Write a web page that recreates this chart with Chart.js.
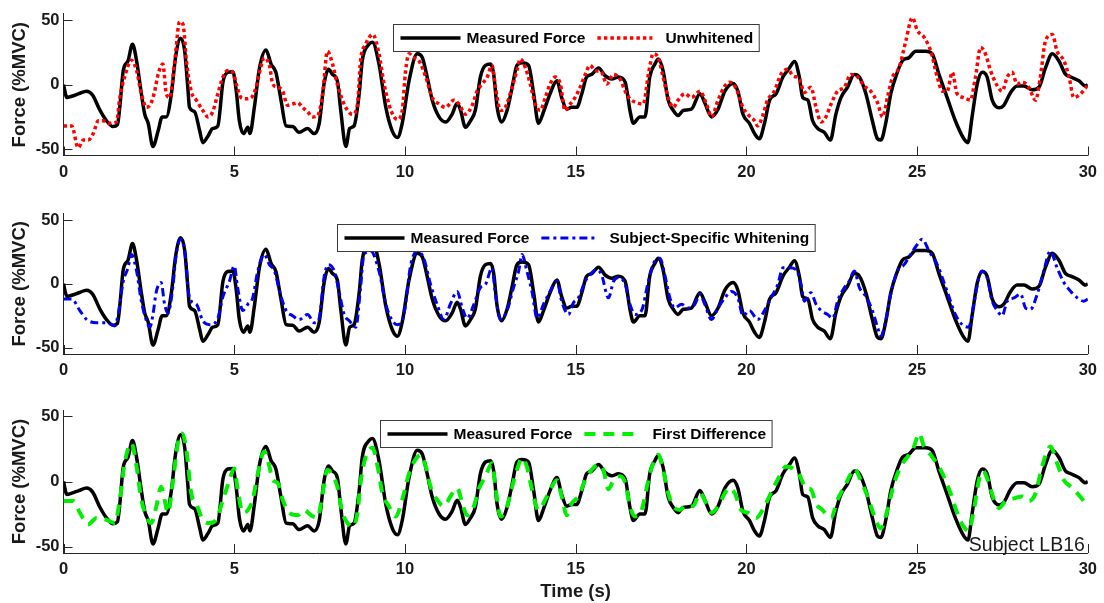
<!DOCTYPE html>
<html>
<head>
<meta charset="utf-8">
<script src="https://cdn.jsdelivr.net/npm/chart.js@4.4.1/dist/chart.umd.min.js"></script>
<style>
  html, body { margin: 0; padding: 0; background: #fff; }
  #wrap { position: relative; width: 1104px; height: 603px; overflow: hidden; }
  .panel { position: absolute; left: 0; width: 1104px; }
  canvas { display: block; }
</style>
</head>
<body>
<div id="wrap">
  <div class="panel" style="top:0px"><canvas id="p1" width="1104" height="196"></canvas></div>
  <div class="panel" style="top:196px"><canvas id="p2" width="1104" height="196"></canvas></div>
  <div class="panel" style="top:392px"><canvas id="p3" width="1104" height="211"></canvas></div>
</div>
<script>
// ---- data (time in s, force in %MVC) ----
const xTicks = [0, 5, 10, 15, 20, 25, 30];
const yTicks = [-50, 0, 50];

const measuredTime = [0, 0.1, 0.24, 0.45, 0.68, 0.85, 1.07, 1.26, 1.45, 1.58, 1.65, 1.75, 1.89, 2.02, 2.14, 2.28, 2.38, 2.48, 2.62, 2.77,
  2.89, 3.01, 3.16, 3.28, 3.43, 3.55, 3.64, 3.69, 3.84, 3.99, 4.08, 4.23, 4.37, 4.52, 4.67, 4.81, 4.96, 5.06, 5.15, 5.27,
  5.4, 5.46, 5.59, 5.74, 5.93, 6.08, 6.22, 6.37, 6.52, 6.71, 6.9, 7.15, 7.34, 7.49, 7.63, 7.76, 7.88, 8.02, 8.12, 8.27,
  8.38, 8.51, 8.66, 8.75, 8.95, 9.05, 9.24, 9.44, 9.63, 9.78, 9.92, 10.12, 10.36, 10.51, 10.65, 10.8, 11.0, 11.19, 11.38, 11.53,
  11.63, 11.77, 11.92, 12.06, 12.21, 12.36, 12.51, 12.6, 12.7, 12.83, 12.99, 13.14, 13.28, 13.43, 13.62, 13.77, 13.91, 14.06, 14.25, 14.45,
  14.59, 14.74, 14.88, 15.03, 15.18, 15.32, 15.47, 15.67, 15.86, 16.06, 16.25, 16.45, 16.59, 16.69, 16.88, 17.03, 17.17, 17.32, 17.42, 17.56,
  17.71, 17.86, 18.0, 18.15, 18.39, 18.64, 18.78, 18.98, 19.17, 19.37, 19.61, 19.75, 19.9, 20.09, 20.24, 20.38, 20.53, 20.68, 20.87, 21.07,
  21.26, 21.41, 21.55, 21.65, 21.8, 21.94, 22.09, 22.28, 22.46, 22.62, 22.77, 22.96, 23.16, 23.31, 23.5, 23.69, 23.84, 23.94, 24.08, 24.23,
  24.42, 24.57, 24.76, 24.96, 25.25, 25.44, 25.64, 25.88, 26.12, 26.37, 26.49, 26.61, 26.76, 26.91, 27.05, 27.2, 27.4, 27.54, 27.74, 27.93,
  28.13, 28.37, 28.57, 28.76, 28.96, 29.15, 29.35, 29.5, 29.74, 29.93, 30];
const measuredForce = [0, -10, -9, -7, -5, -8, -20, -28, -32.5, -31, -17, 11, 18.6, 31.5, 18.6, -7, -23, -30, -48, -36,
  -25, -25, -7, 21, 36, 26, -2, -17.6, -21, -36, -45, -40, -34, -32, 2, 9.6, 10, -5, -28, -38,
  -33, -38, -17.6, 13, 27, 16, 9.6, -12, -32, -32.5, -37, -34, -38, -30, 0.5, 12, 8, 3, -20, -48,
  -34, -32, -7, 18.6, 31.5, 33, 16, -17.6, -36, -41, -30, 3, 24, 21, 6, -12, -25, -29, -23, -14.5,
  -20, -33, -28, -20, 6, 15, 16, 8, -17.6, -29, -20, -2, 15, 17, 15, -7, -30, -21, -7, 3,
  -10, -19, -17.6, -17.6, -7, 6, 8, 13, 7, 4.4, 6, 2, -20, -30, -25, -25, 6, 16, 20, 11,
  -12, -20, -24, -20, -19, -7, -14, -25, -19, -5, 1, -5, -23, -30, -38, -42, -30, -12, -7, 6,
  13, 18, 6, -10, -12, -28, -34, -37, -43, -23, -10, -2, 8, 6, -7, -28, -42, -43, -30, -7,
  9.6, 18.6, 21, 26, 26, 24, 8, -10, -28, -42, -45, -25, 0.5, 9.6, 6, -12, -18, -16, -6, -1,
  -1, -4, -2, 13, 24, 18.6, 8, 6, 3, -1, 0];

const unwhitenedTime = [0, 0.24, 0.43, 0.58, 0.72, 0.87, 1.02, 1.16, 1.36, 1.55, 1.65, 1.79, 1.99, 2.14, 2.28, 2.43, 2.57, 2.67, 2.77, 2.91,
  3.01, 3.11, 3.26, 3.4, 3.5, 3.6, 3.74, 3.89, 4.08, 4.23, 4.37, 4.52, 4.67, 4.81, 4.96, 5.06, 5.2, 5.35, 5.5, 5.64,
  5.79, 5.88, 6.03, 6.13, 6.27, 6.42, 6.56, 6.71, 6.86, 7.0, 7.15, 7.29, 7.44, 7.59, 7.73, 7.88, 8.02, 8.17, 8.32, 8.46,
  8.61, 8.7, 8.85, 9.06, 9.24, 9.39, 9.59, 9.78, 9.92, 10.02, 10.12, 10.26, 10.41, 10.61, 10.8, 11.0, 11.19, 11.43, 11.58, 11.77,
  11.97, 12.11, 12.26, 12.41, 12.55, 12.65, 12.8, 12.94, 13.14, 13.28, 13.38, 13.53, 13.67, 13.82, 13.96, 14.11, 14.25, 14.4, 14.55, 14.69,
  14.84, 14.98, 15.13, 15.28, 15.42, 15.57, 15.76, 15.91, 16.11, 16.3, 16.45, 16.59, 16.79, 16.98, 17.13, 17.27, 17.42, 17.56, 17.71, 17.86,
  18.0, 18.2, 18.39, 18.64, 18.83, 18.98, 19.17, 19.37, 19.51, 19.7, 19.9, 20.04, 20.24, 20.33, 20.48, 20.62, 20.82, 21.01, 21.21, 21.36,
  21.55, 21.7, 21.89, 22.04, 22.19, 22.33, 22.48, 22.67, 22.87, 23.06, 23.26, 23.45, 23.64, 23.84, 23.99, 24.13, 24.28, 24.47, 24.67, 24.86,
  25.01, 25.2, 25.4, 25.59, 25.74, 25.88, 26.03, 26.17, 26.37, 26.56, 26.71, 26.86, 27.0, 27.15, 27.35, 27.49, 27.64, 27.78, 27.93, 28.08,
  28.27, 28.47, 28.61, 28.76, 28.96, 29.1, 29.3, 29.45, 29.59, 29.79, 29.98];
const unwhitenedForce = [-32, -32, -49, -43, -43, -38, -28, -28, -30, -29, -10, 6, 19, 11, -7, -17.6, -14, -5, 8, 16,
  -7, -10, 18.6, 49, 47, 18.6, -5, -12, -20, -25, -21, -7, 6, 11, 9.6, 0.5, -10, -11, -10, -2,
  15, 21, 15, 0.5, -2, -5, -16, -15, -14, -17.6, -21, -25, -24, -7, 26, 16, 0.5, -12, -20, -23,
  -15, 18.6, 31.5, 39, 24, 0.5, -20, -27, -20, 11, 24, 21, 18.6, 6, -10, -15, -17.6, -12, -15, -23,
  -16, -5, 0.5, 6, 15, -2, -20, -17.6, -2, 11, 20, 13, 0.5, -15, -20, -10, 0.5, 6, 0.5, -20,
  -15, -10, -2, 8, 15, 11, 9.6, 0.5, 8, 4.4, -5, -11, -14, -15, 8, 24, 21, 6, -10, -17.6,
  -12, -7, -10, -5, -15, -25, -12, -1, 2, -3, -17.6, -23, -28, -32, -24, -12, -5, 8, 12, 7,
  4.4, -6, -2, -17.6, -29, -25, -15, -5, -2, 8, 6, -1, -5, -14, -25, -10, 6, 13, 34, 52,
  42, 37, 26, 6, -5, -5, 9.6, -7, -10, -12, 6, 29, 24, 11, -1, -5, 6, 9.6, 0.5, 2,
  -2, -12, 6, 34, 39, 26, 18.6, 6, -10, -7, -1];

const whitenedTime = [0, 0.24, 0.48, 0.68, 0.97, 1.26, 1.5, 1.6, 1.75, 1.89, 1.99, 2.14, 2.28, 2.43, 2.53, 2.62, 2.72, 2.86, 2.96, 3.06,
  3.2, 3.3, 3.43, 3.55, 3.69, 3.89, 4.08, 4.28, 4.52, 4.67, 4.86, 5.0, 5.1, 5.25, 5.4, 5.54, 5.69, 5.88, 6.03, 6.18,
  6.33, 6.52, 6.71, 6.9, 7.15, 7.34, 7.49, 7.63, 7.76, 7.93, 8.07, 8.22, 8.37, 8.56, 8.7, 8.8, 9.0, 9.24, 9.44, 9.63,
  9.78, 9.97, 10.17, 10.36, 10.55, 10.75, 10.94, 11.14, 11.33, 11.53, 11.68, 11.82, 12.02, 12.21, 12.36, 12.55, 12.65, 12.8, 12.99, 13.18,
  13.33, 13.43, 13.57, 13.72, 13.87, 14.06, 14.25, 14.45, 14.59, 14.79, 14.93, 15.08, 15.28, 15.47, 15.62, 15.76, 15.96, 16.11, 16.25, 16.45,
  16.59, 16.74, 16.93, 17.13, 17.32, 17.47, 17.61, 17.76, 17.9, 18.1, 18.29, 18.49, 18.64, 18.78, 18.98, 19.17, 19.37, 19.56, 19.75, 19.9,
  20.09, 20.33, 20.53, 20.72, 20.92, 21.07, 21.26, 21.46, 21.6, 21.7, 21.89, 22.04, 22.19, 22.38, 22.53, 22.67, 22.87, 23.01, 23.16, 23.31,
  23.5, 23.69, 23.84, 23.94, 24.08, 24.23, 24.42, 24.62, 24.81, 25.01, 25.15, 25.35, 25.59, 25.88, 26.12, 26.32, 26.51, 26.66, 26.81, 26.91,
  27.05, 27.2, 27.35, 27.49, 27.64, 27.84, 28.03, 28.18, 28.32, 28.52, 28.71, 28.9, 29.1, 29.3, 29.5, 29.69, 29.88, 30];
const whitenedForce = [-12, -12, -21, -28, -30.5, -30.5, -33, -24, 2, 12.5, 23, 10, -13.6, -29, -34, -24, -6, 1, -16, -23,
  -3, 23, 35, 25.6, -11, -16, -29, -32, -27, -10, 2, 14, -3, -21, -16, -11, 10, 23, 15, 10,
  -6, -21, -25, -28, -24, -30.5, -27, 5, 15, 10, -6, -24, -29, -34, -3, 23, 25.6, 10, -16, -29,
  -32, -24, 15, 25.6, 20, -0.5, -16, -28, -16, -6, -19, -27, -16, -3, -0.5, 12.5, -8, -28, -21, -3,
  10, 23, 10, -6, -27, -16, -6, 2, -13.6, -24, -15, -11, 2, 8.6, 11, 7, -11, 2, 5, -0.5,
  -16, -24, -21, 2, 18, 20, 7, -11, -19, -16, -19, -16, -8, -16, -28, -19, -11, -6, -11, -25,
  -21, -28, -21, -11, -0.5, 12.5, 12.5, 11, -0.5, -13.6, -7, -16, -21, -24, -27, -13.6, -3, 2, 10, -3,
  -10, -21, -34, -41, -29, -8, 10, 15, 23, 31, 35, 25.6, 15, -6, -24, -32, -34, -16, 5, 10,
  5, -13.6, -21, -25, -13.6, -11, -8, -19, -20, -8, 10, 25.6, 12.5, 1, -6, -11, -13.6, -12];

const firstDiffTime = [0, 0.29, 0.48, 0.72, 0.97, 1.26, 1.5, 1.65, 1.79, 1.99, 2.14, 2.28, 2.43, 2.57, 2.72, 2.86, 2.96, 3.06, 3.2, 3.35,
  3.48, 3.6, 3.74, 3.89, 4.08, 4.28, 4.47, 4.67, 4.86, 5.0, 5.1, 5.25, 5.4, 5.54, 5.69, 5.88, 6.03, 6.13, 6.27, 6.42,
  6.61, 6.86, 7.05, 7.25, 7.44, 7.59, 7.73, 7.88, 8.02, 8.17, 8.32, 8.46, 8.61, 8.7, 8.85, 9.05, 9.2, 9.34, 9.53, 9.73,
  9.92, 10.12, 10.31, 10.46, 10.61, 10.75, 10.94, 11.14, 11.33, 11.53, 11.68, 11.82, 12.02, 12.16, 12.36, 12.55, 12.65, 12.8, 12.99, 13.14,
  13.28, 13.43, 13.57, 13.72, 13.91, 14.11, 14.3, 14.45, 14.59, 14.74, 14.88, 15.08, 15.28, 15.47, 15.67, 15.81, 15.96, 16.11, 16.3, 16.45,
  16.59, 16.74, 16.93, 17.13, 17.27, 17.42, 17.56, 17.71, 17.86, 18.05, 18.25, 18.44, 18.64, 18.83, 18.98, 19.17, 19.37, 19.5, 19.66, 19.85,
  20.04, 20.29, 20.53, 20.77, 20.97, 21.16, 21.36, 21.55, 21.75, 21.89, 22.04, 22.23, 22.48, 22.67, 22.87, 23.06, 23.16, 23.35, 23.55, 23.74,
  23.94, 24.13, 24.33, 24.52, 24.72, 24.91, 25.06, 25.2, 25.44, 25.69, 25.98, 26.17, 26.37, 26.51, 26.66, 26.81, 26.93, 27.1, 27.25, 27.4,
  27.59, 27.84, 28.08, 28.27, 28.47, 28.66, 28.91, 29.1, 29.3, 29.5, 29.69, 29.88];
const firstDiffForce = [-15, -15, -24, -33, -28, -29.5, -32, -14, 14, 29.5, 11.5, -14, -27, -32, -19, -4, -14, -24, -1, 29.5,
  37, 24, -9, -17, -29.5, -32, -29.5, -14, 1, 10, -6, -24, -22, -14, 6, 23, 11.5, 1, -1, -14,
  -24, -26, -22, -26, -28, -9, 9, 5, -4, -24, -32, -35, -24, -1, 19, 26, 11.5, -9, -19, -27,
  -14, 6, 17, 20.5, 11.5, -4, -14, -19, -11.5, -5, -17, -26, -19, -6, 4, 14, -4, -27, -19, -4,
  9, 18, 11.5, -6, -22, -14, -4, 1, -11.5, -26, -17, -11.5, 1, 9, 13, 9, -6, 1, 4, -1,
  -19, -27, -22, 1, 14, 20.5, 9, -9, -19, -22, -18, -19, -9, -17, -24, -19, -9, -5, -9, -22,
  -24, -28, -19, -6, 4, 11.5, 10, 5, -5, -6, -17, -22, -28, -14, -4, 6, 10, 1, -11.5, -26,
  -36, -22, -1, 11.5, 19, 27, 37, 27, 19, 9, -9, -24, -35, -38, -22, 1, 8, -1, -14, -20.5,
  -15, -13, -11.5, -15, -9, 11.5, 27, 14, 1, -4, -9, -15];

// ---- styling ----
const FONT = "'Liberation Sans', Arial, Helvetica, sans-serif";
const AXIS_COLOR = '#262626';
Chart.defaults.font.family = FONT;
Chart.defaults.color = '#111';

function toPoints(ts, vs) {
  return ts.map((t, i) => ({ x: t, y: vs[i] }));
}

// inward MATLAB-style tick marks
const inwardTicks = {
  id: 'inwardTicks',
  beforeDatasetsDraw(chart) {
    const { ctx, chartArea: a, scales: { x, y } } = chart;
    ctx.save();
    ctx.strokeStyle = AXIS_COLOR;
    ctx.lineWidth = 1;
    ctx.beginPath();
    x.ticks.forEach(t => {
      const px = Math.round(x.getPixelForValue(t.value)) + 0.5;
      ctx.moveTo(px, a.bottom);
      ctx.lineTo(px, a.bottom - 9);
    });
    y.ticks.forEach(t => {
      const py = Math.round(y.getPixelForValue(t.value)) + 0.5;
      ctx.moveTo(a.left, py);
      ctx.lineTo(a.left + 9, py);
    });
    ctx.stroke();
    ctx.restore();
  }
};

// boxed legend centred at the top of the plot area
const boxLegend = {
  id: 'boxLegend',
  afterDatasetsDraw(chart, args, opts) {
    if (!opts || !opts.items) return;
    const { ctx, chartArea: a } = chart;
    ctx.save();
    ctx.font = 'bold 15.5px ' + FONT;
    const samples = [60, 55];
    const widths = opts.items.map(it => ctx.measureText(it.text).width);
    const boxW = 7 + samples[0] + 6 + widths[0] + 12 + samples[1] + 13 + widths[1] + 6;
    const boxH = 27;
    const left = Math.round((a.left + a.right) / 2 - boxW / 2) + 0.5;
    const top = Math.round(a.top + opts.offsetTop) + 0.5;
    ctx.fillStyle = '#fff';
    ctx.fillRect(left, top, boxW, boxH);
    ctx.strokeStyle = '#3a3a3a';
    ctx.lineWidth = 1;
    ctx.strokeRect(left, top, boxW, boxH);
    const cy = top + boxH / 2;
    let x = left + 7;
    opts.items.forEach((it, i) => {
      const ds = chart.data.datasets[it.dataset];
      ctx.beginPath();
      ctx.strokeStyle = ds.borderColor;
      ctx.lineWidth = ds.borderWidth;
      ctx.setLineDash(ds.borderDash || []);
      ctx.moveTo(x, cy);
      ctx.lineTo(x + samples[i], cy);
      ctx.stroke();
      ctx.setLineDash([]);
      x += samples[i] + (i === 0 ? 6 : 13);
      ctx.fillStyle = '#000';
      ctx.textBaseline = 'middle';
      ctx.textAlign = 'left';
      ctx.fillText(it.text, x, cy + 1);
      x += widths[i] + 12;
    });
    ctx.restore();
  }
};

// plain annotation in a corner of the plot
const cornerNote = {
  id: 'cornerNote',
  afterDraw(chart, args, opts) {
    if (!opts || !opts.text) return;
    const { ctx, chartArea: a } = chart;
    ctx.save();
    ctx.font = '19.5px ' + FONT;
    ctx.fillStyle = '#1a1a1a';
    ctx.textAlign = 'right';
    ctx.textBaseline = 'alphabetic';
    ctx.fillText(opts.text, a.right - 3, a.bottom - 2);
    ctx.restore();
  }
};

const panels = [
  { id: 'p1', padTop: 13.5, axisH: 40.5, label: 'Unwhitened', time: unwhitenedTime, force: unwhitenedForce,
    color: '#ff0000', dash: [3.5, 3], width: 3.5, xTitle: false, note: null },
  { id: 'p2', padTop: 17.6, axisH: 38, label: 'Subject-Specific Whitening', time: whitenedTime, force: whitenedForce,
    color: '#0000f0', dash: [8, 4, 3, 4], width: 3, xTitle: false, note: null },
  { id: 'p3', padTop: 18, axisH: 50, label: 'First Difference', time: firstDiffTime, force: firstDiffForce,
    color: '#00ee00', dash: [11, 8], width: 4, xTitle: true, note: 'Subject LB16' }
];

panels.forEach(p => {
  const ctx = document.getElementById(p.id).getContext('2d');
  new Chart(ctx, {
    type: 'line',
    data: {
      datasets: [
        {
          label: 'Measured Force',
          data: toPoints(measuredTime, measuredForce),
          borderColor: '#000',
          borderWidth: 3.5,
          borderJoinStyle: 'round',
          pointRadius: 0,
          cubicInterpolationMode: 'monotone',
          order: 2,
        },
        {
          label: p.label,
          data: toPoints(p.time, p.force),
          borderColor: p.color,
          borderWidth: p.width,
          borderDash: p.dash,
          pointRadius: 0,
          cubicInterpolationMode: 'monotone',
          order: 1,
        },
      ],
    },
    options: {
      responsive: false,
      animation: false,
      events: [],
      layout: { padding: { top: p.padTop, right: 14, left: 0, bottom: 0 } },
      scales: {
        x: {
          type: 'linear',
          min: 0,
          max: 30,
          afterBuildTicks: s => { s.ticks = xTicks.map(v => ({ value: v })); },
          afterFit: s => { s.height = p.axisH; },
          grid: { display: false, drawTicks: false },
          border: { display: true, color: AXIS_COLOR, width: 1 },
          ticks: { padding: 7, color: '#1a1a1a', font: { size: 16.5, weight: 'bold' }, maxRotation: 0 },
          title: {
            display: p.xTitle,
            text: 'Time (s)',
            color: '#1a1a1a',
            font: { size: 18.5, weight: 'bold' },
            padding: { top: 0, bottom: 0 },
          },
        },
        y: {
          min: -55,
          max: 55,
          afterBuildTicks: s => { s.ticks = yTicks.map(v => ({ value: v })); },
          afterFit: s => { s.width = 63.5; },
          grid: { display: false, drawTicks: false },
          border: { display: true, color: AXIS_COLOR, width: 1 },
          ticks: { padding: 4, color: '#1a1a1a', font: { size: 16.5, weight: 'bold' } },
          title: {
            display: true,
            text: 'Force (%MVC)',
            color: '#1a1a1a',
            font: { size: 18.5, weight: 'bold' },
            padding: { top: 9, bottom: 0 },
          },
        },
      },
      plugins: {
        legend: { display: false },
        tooltip: { enabled: false },
        boxLegend: {
          offsetTop: 10,
          items: [
            { dataset: 0, text: 'Measured Force' },
            { dataset: 1, text: p.label },
          ],
        },
        cornerNote: { text: p.note },
      },
    },
    plugins: [inwardTicks, boxLegend, cornerNote],
  });
});
</script>
</body>
</html>
